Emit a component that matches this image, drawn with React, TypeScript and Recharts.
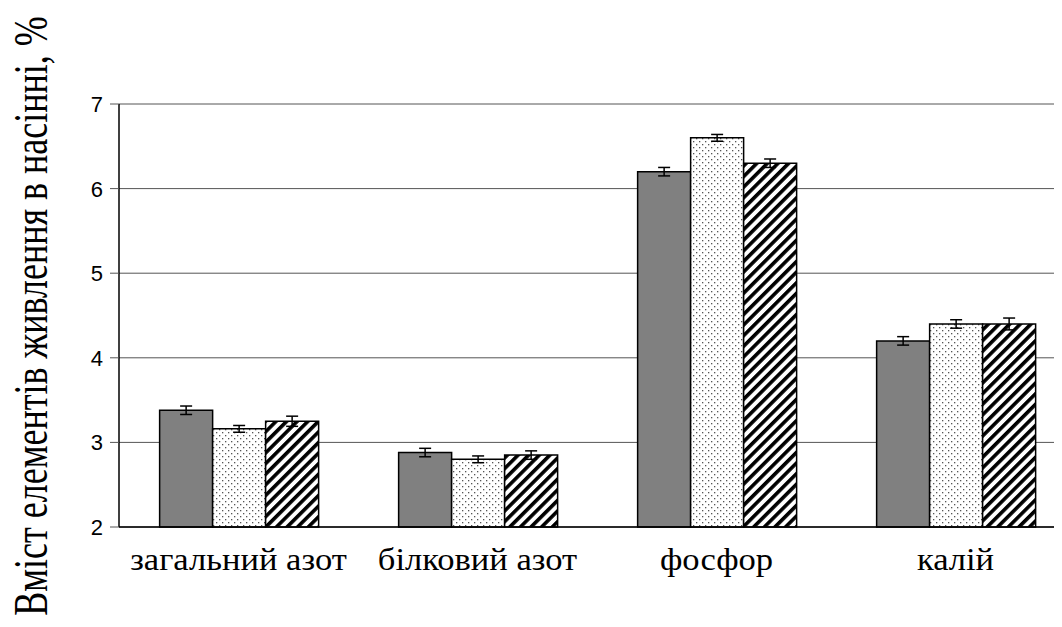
import { BarChart, Bar, XAxis, YAxis, CartesianGrid, ErrorBar } from 'recharts';

const categories = ['загальний азот', 'білковий азот', 'фосфор', 'калій'];
const seriesA = [3.38, 2.88, 6.2, 4.2];
const seriesB = [3.16, 2.8, 6.6, 4.4];
const seriesC = [3.25, 2.85, 6.3, 4.4];
const errA = [0.05, 0.05, 0.05, 0.05];
const errB = [0.04, 0.04, 0.04, 0.05];
const errC = [0.06, 0.05, 0.05, 0.07];
const yTicks = [2, 3, 4, 5, 6, 7];
const yTitle = 'Вміст елементів живлення в насінні, %';

const data = categories.map((name, i) => ({
  name,
  a: seriesA[i],
  b: seriesB[i],
  c: seriesC[i],
  ea: errA[i],
  eb: errB[i],
  ec: errC[i],
}));

// plain family names: a quoted fallback list didn't resolve in the renderer
const serif = 'Liberation Serif';
const sans = 'Liberation Sans';

// the original text is a bit stretched sideways, hence the scale()
function CategoryTick({ x, y, payload }: { x?: number; y?: number; payload?: { value: string } }) {
  return (
    <text
      transform={`translate(${x ?? 0}, ${(y ?? 0) + 43}) scale(1.08, 1)`}
      textAnchor="middle"
      fill="#000"
      fontFamily={serif}
      fontSize={32}
    >
      {payload?.value}
    </text>
  );
}

function YTitle() {
  return (
    <text
      transform="translate(39, 308) rotate(-90) scale(1, 1.33)"
      textAnchor="middle"
      fill="#000"
      fontFamily={serif}
      fontSize={36}
    >
      {yTitle}
    </text>
  );
}

function ValueTick({ x, y, payload }: { x?: number; y?: number; payload?: { value: number } }) {
  return (
    <text x={x} y={y} dy="0.36em" textAnchor="end" fill="#000" fontFamily={sans} fontSize={22}>
      {payload?.value}
    </text>
  );
}

export default function App() {
  return (
    <div style={{ position: 'relative', width: 1054, height: 619, marginBottom: -8, overflow: 'hidden' }}>
      <svg width={0} height={0} style={{ position: 'absolute' }}>
        <defs>
          <pattern id="dots" patternUnits="userSpaceOnUse" width={6} height={6}>
            <rect width={6} height={6} fill="#fff" />
            <rect x={1} y={1} width={1.3} height={1.3} fill="#555" />
            <rect x={4} y={4} width={1.3} height={1.3} fill="#555" />
          </pattern>
          <pattern id="stripes" patternUnits="userSpaceOnUse" width={7.5} height={7.5} patternTransform="rotate(45)">
            <rect width={7.5} height={7.5} fill="#fff" />
            <rect width={3.6} height={7.5} fill="#000" />
          </pattern>
        </defs>
      </svg>
      <BarChart
        width={1067}
        height={619}
        data={data}
        margin={{ top: 96, right: 0, bottom: 60, left: 51 }}
        barCategoryGap="17%"
        barGap={0}
      >
        <CartesianGrid vertical={false} stroke="#555" strokeWidth={1} />
        <XAxis
          dataKey="name"
          axisLine={{ stroke: '#000', strokeWidth: 1.5 }}
          tickLine={false}
          tickSize={0}
          tickMargin={0}
          height={40}
          interval={0}
          tick={<CategoryTick />}
        />
        <YAxis
          domain={[2, 7]}
          ticks={yTicks}
          width={60}
          axisLine={{ stroke: '#000', strokeWidth: 1.5 }}
          tickLine={{ stroke: '#555' }}
          tickSize={9}
          tickMargin={7}
          tick={<ValueTick />}
          label={<YTitle />}
        />
        <Bar dataKey="a" fill="#808080" stroke="#000" strokeWidth={1.5} isAnimationActive={false}>
          <ErrorBar dataKey="ea" width={6} stroke="#000" strokeWidth={1.5} />
        </Bar>
        <Bar dataKey="b" fill="url(#dots)" stroke="#000" strokeWidth={1.5} isAnimationActive={false}>
          <ErrorBar dataKey="eb" width={6} stroke="#000" strokeWidth={1.5} />
        </Bar>
        <Bar dataKey="c" fill="url(#stripes)" stroke="#000" strokeWidth={1.5} isAnimationActive={false}>
          <ErrorBar dataKey="ec" width={6} stroke="#000" strokeWidth={1.5} />
        </Bar>
      </BarChart>
    </div>
  );
}
